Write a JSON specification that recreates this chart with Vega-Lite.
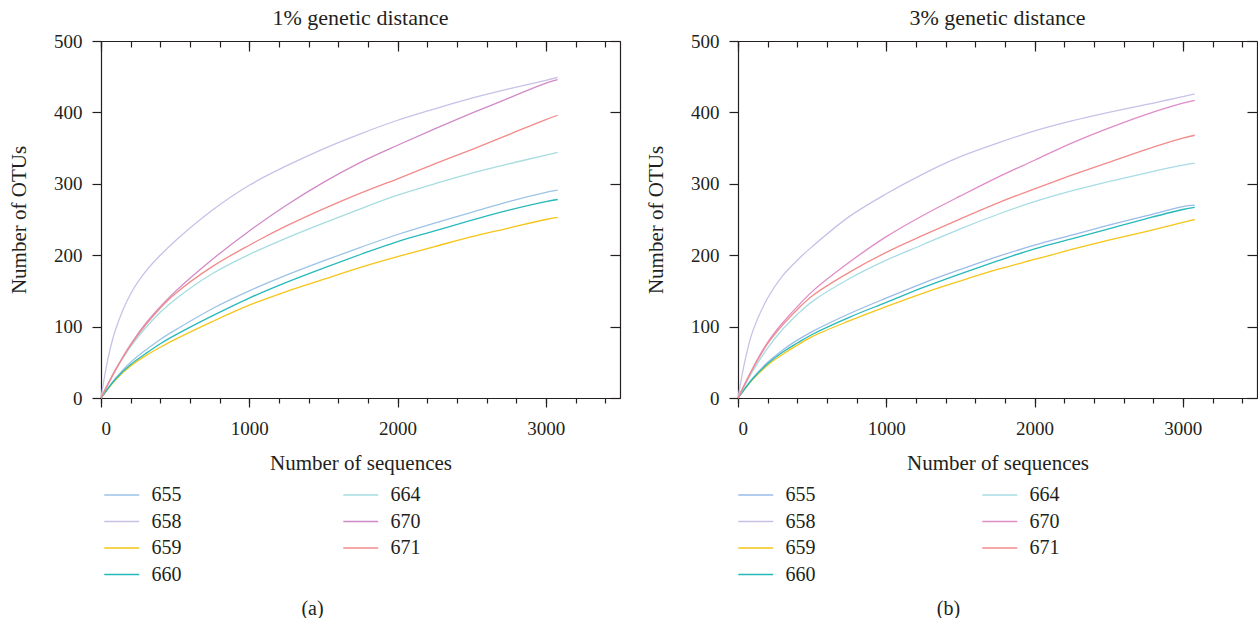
{
  "$schema": "https://vega.github.io/schema/vega-lite/v6.json",
  "padding": {"left": 8, "top": 7, "right": 0, "bottom": 0},
  "spacing": 24,
  "config": {
    "font": "Liberation Serif",
    "view": {"stroke": null},
    "axis": {"domainColor": "#231f20", "tickColor": "#231f20", "labelColor": "#231f20", "titleColor": "#231f20", "labelFontSize": 19, "titleFontSize": 21, "titleFontWeight": "normal", "domainWidth": 1.2, "tickWidth": 1.2, "grid": false, "labelFont": "Liberation Serif", "titleFont": "Liberation Serif"},
    "title": {"font": "Liberation Serif", "fontSize": 22, "fontWeight": "normal", "color": "#231f20", "anchor": "middle", "frame": "group", "offset": 2},
    "legend": {"labelFont": "Liberation Serif", "labelColor": "#231f20"}
  },
  "datasets": {
    "a": [
      {"sample":"655","seq":0,"otus":0},{"sample":"655","seq":100,"otus":28},{"sample":"655","seq":200,"otus":50},{"sample":"655","seq":300,"otus":67},{"sample":"655","seq":400,"otus":82},{"sample":"655","seq":500,"otus":95},{"sample":"655","seq":750,"otus":125},{"sample":"655","seq":1000,"otus":150},{"sample":"655","seq":1250,"otus":172},{"sample":"655","seq":1500,"otus":192},{"sample":"655","seq":1750,"otus":211},{"sample":"655","seq":2000,"otus":229},{"sample":"655","seq":2250,"otus":245},{"sample":"655","seq":2500,"otus":260},{"sample":"655","seq":2750,"otus":275},{"sample":"655","seq":3000,"otus":288},{"sample":"655","seq":3080,"otus":291},
      {"sample":"658","seq":0,"otus":0},{"sample":"658","seq":50,"otus":58},{"sample":"658","seq":100,"otus":97},{"sample":"658","seq":200,"otus":146},{"sample":"658","seq":300,"otus":177},{"sample":"658","seq":400,"otus":200},{"sample":"658","seq":500,"otus":220},{"sample":"658","seq":750,"otus":263},{"sample":"658","seq":1000,"otus":298},{"sample":"658","seq":1250,"otus":325},{"sample":"658","seq":1500,"otus":349},{"sample":"658","seq":1750,"otus":370},{"sample":"658","seq":2000,"otus":389},{"sample":"658","seq":2250,"otus":405},{"sample":"658","seq":2500,"otus":420},{"sample":"658","seq":2750,"otus":433},{"sample":"658","seq":3000,"otus":445},{"sample":"658","seq":3080,"otus":449},
      {"sample":"659","seq":0,"otus":0},{"sample":"659","seq":100,"otus":26},{"sample":"659","seq":200,"otus":45},{"sample":"659","seq":300,"otus":59},{"sample":"659","seq":400,"otus":71},{"sample":"659","seq":500,"otus":82},{"sample":"659","seq":750,"otus":107},{"sample":"659","seq":1000,"otus":130},{"sample":"659","seq":1250,"otus":149},{"sample":"659","seq":1500,"otus":166},{"sample":"659","seq":1750,"otus":183},{"sample":"659","seq":2000,"otus":198},{"sample":"659","seq":2250,"otus":212},{"sample":"659","seq":2500,"otus":226},{"sample":"659","seq":2750,"otus":238},{"sample":"659","seq":3000,"otus":250},{"sample":"659","seq":3080,"otus":253},
      {"sample":"660","seq":0,"otus":0},{"sample":"660","seq":100,"otus":27},{"sample":"660","seq":200,"otus":47},{"sample":"660","seq":300,"otus":62},{"sample":"660","seq":400,"otus":76},{"sample":"660","seq":500,"otus":88},{"sample":"660","seq":750,"otus":115},{"sample":"660","seq":1000,"otus":140},{"sample":"660","seq":1250,"otus":162},{"sample":"660","seq":1500,"otus":182},{"sample":"660","seq":1750,"otus":201},{"sample":"660","seq":2000,"otus":219},{"sample":"660","seq":2250,"otus":234},{"sample":"660","seq":2500,"otus":249},{"sample":"660","seq":2750,"otus":263},{"sample":"660","seq":3000,"otus":275},{"sample":"660","seq":3080,"otus":278},
      {"sample":"664","seq":0,"otus":0},{"sample":"664","seq":100,"otus":40},{"sample":"664","seq":200,"otus":72},{"sample":"664","seq":300,"otus":98},{"sample":"664","seq":400,"otus":120},{"sample":"664","seq":500,"otus":138},{"sample":"664","seq":750,"otus":174},{"sample":"664","seq":1000,"otus":201},{"sample":"664","seq":1250,"otus":224},{"sample":"664","seq":1500,"otus":245},{"sample":"664","seq":1750,"otus":265},{"sample":"664","seq":2000,"otus":284},{"sample":"664","seq":2250,"otus":300},{"sample":"664","seq":2500,"otus":315},{"sample":"664","seq":2750,"otus":328},{"sample":"664","seq":3000,"otus":340},{"sample":"664","seq":3080,"otus":344},
      {"sample":"670","seq":0,"otus":0},{"sample":"670","seq":100,"otus":40},{"sample":"670","seq":200,"otus":75},{"sample":"670","seq":300,"otus":104},{"sample":"670","seq":400,"otus":128},{"sample":"670","seq":500,"otus":149},{"sample":"670","seq":750,"otus":194},{"sample":"670","seq":1000,"otus":234},{"sample":"670","seq":1250,"otus":270},{"sample":"670","seq":1500,"otus":302},{"sample":"670","seq":1750,"otus":330},{"sample":"670","seq":2000,"otus":354},{"sample":"670","seq":2250,"otus":377},{"sample":"670","seq":2500,"otus":399},{"sample":"670","seq":2750,"otus":420},{"sample":"670","seq":3000,"otus":441},{"sample":"670","seq":3080,"otus":446},
      {"sample":"671","seq":0,"otus":0},{"sample":"671","seq":100,"otus":40},{"sample":"671","seq":200,"otus":74},{"sample":"671","seq":300,"otus":102},{"sample":"671","seq":400,"otus":126},{"sample":"671","seq":500,"otus":146},{"sample":"671","seq":750,"otus":184},{"sample":"671","seq":1000,"otus":214},{"sample":"671","seq":1250,"otus":241},{"sample":"671","seq":1500,"otus":265},{"sample":"671","seq":1750,"otus":287},{"sample":"671","seq":2000,"otus":307},{"sample":"671","seq":2250,"otus":328},{"sample":"671","seq":2500,"otus":348},{"sample":"671","seq":2750,"otus":369},{"sample":"671","seq":3000,"otus":390},{"sample":"671","seq":3080,"otus":396}
    ],
    "b": [
      {"sample":"655","seq":0,"otus":0},{"sample":"655","seq":100,"otus":28},{"sample":"655","seq":200,"otus":50},{"sample":"655","seq":300,"otus":67},{"sample":"655","seq":400,"otus":81},{"sample":"655","seq":500,"otus":93},{"sample":"655","seq":750,"otus":118},{"sample":"655","seq":1000,"otus":140},{"sample":"655","seq":1250,"otus":161},{"sample":"655","seq":1500,"otus":180},{"sample":"655","seq":1750,"otus":198},{"sample":"655","seq":2000,"otus":214},{"sample":"655","seq":2250,"otus":228},{"sample":"655","seq":2500,"otus":242},{"sample":"655","seq":2750,"otus":255},{"sample":"655","seq":3000,"otus":268},{"sample":"655","seq":3080,"otus":270},
      {"sample":"658","seq":0,"otus":0},{"sample":"658","seq":50,"otus":55},{"sample":"658","seq":100,"otus":94},{"sample":"658","seq":200,"otus":140},{"sample":"658","seq":300,"otus":171},{"sample":"658","seq":400,"otus":193},{"sample":"658","seq":500,"otus":212},{"sample":"658","seq":750,"otus":254},{"sample":"658","seq":1000,"otus":286},{"sample":"658","seq":1250,"otus":314},{"sample":"658","seq":1500,"otus":338},{"sample":"658","seq":1750,"otus":357},{"sample":"658","seq":2000,"otus":374},{"sample":"658","seq":2250,"otus":388},{"sample":"658","seq":2500,"otus":400},{"sample":"658","seq":2750,"otus":411},{"sample":"658","seq":3000,"otus":422},{"sample":"658","seq":3080,"otus":426},
      {"sample":"659","seq":0,"otus":0},{"sample":"659","seq":100,"otus":26},{"sample":"659","seq":200,"otus":46},{"sample":"659","seq":300,"otus":61},{"sample":"659","seq":400,"otus":74},{"sample":"659","seq":500,"otus":86},{"sample":"659","seq":750,"otus":108},{"sample":"659","seq":1000,"otus":128},{"sample":"659","seq":1250,"otus":147},{"sample":"659","seq":1500,"otus":164},{"sample":"659","seq":1750,"otus":180},{"sample":"659","seq":2000,"otus":194},{"sample":"659","seq":2250,"otus":208},{"sample":"659","seq":2500,"otus":221},{"sample":"659","seq":2750,"otus":233},{"sample":"659","seq":3000,"otus":246},{"sample":"659","seq":3080,"otus":250},
      {"sample":"660","seq":0,"otus":0},{"sample":"660","seq":100,"otus":27},{"sample":"660","seq":200,"otus":48},{"sample":"660","seq":300,"otus":64},{"sample":"660","seq":400,"otus":77},{"sample":"660","seq":500,"otus":89},{"sample":"660","seq":750,"otus":113},{"sample":"660","seq":1000,"otus":134},{"sample":"660","seq":1250,"otus":155},{"sample":"660","seq":1500,"otus":174},{"sample":"660","seq":1750,"otus":192},{"sample":"660","seq":2000,"otus":209},{"sample":"660","seq":2250,"otus":223},{"sample":"660","seq":2500,"otus":237},{"sample":"660","seq":2750,"otus":251},{"sample":"660","seq":3000,"otus":264},{"sample":"660","seq":3080,"otus":267},
      {"sample":"664","seq":0,"otus":0},{"sample":"664","seq":100,"otus":38},{"sample":"664","seq":200,"otus":70},{"sample":"664","seq":300,"otus":96},{"sample":"664","seq":400,"otus":117},{"sample":"664","seq":500,"otus":135},{"sample":"664","seq":750,"otus":167},{"sample":"664","seq":1000,"otus":193},{"sample":"664","seq":1250,"otus":215},{"sample":"664","seq":1500,"otus":237},{"sample":"664","seq":1750,"otus":257},{"sample":"664","seq":2000,"otus":275},{"sample":"664","seq":2250,"otus":290},{"sample":"664","seq":2500,"otus":303},{"sample":"664","seq":2750,"otus":315},{"sample":"664","seq":3000,"otus":326},{"sample":"664","seq":3080,"otus":329},
      {"sample":"670","seq":0,"otus":0},{"sample":"670","seq":100,"otus":42},{"sample":"670","seq":200,"otus":78},{"sample":"670","seq":300,"otus":105},{"sample":"670","seq":400,"otus":128},{"sample":"670","seq":500,"otus":149},{"sample":"670","seq":750,"otus":190},{"sample":"670","seq":1000,"otus":226},{"sample":"670","seq":1250,"otus":256},{"sample":"670","seq":1500,"otus":283},{"sample":"670","seq":1750,"otus":309},{"sample":"670","seq":2000,"otus":333},{"sample":"670","seq":2250,"otus":357},{"sample":"670","seq":2500,"otus":378},{"sample":"670","seq":2750,"otus":397},{"sample":"670","seq":3000,"otus":413},{"sample":"670","seq":3080,"otus":417},
      {"sample":"671","seq":0,"otus":0},{"sample":"671","seq":100,"otus":41},{"sample":"671","seq":200,"otus":76},{"sample":"671","seq":300,"otus":102},{"sample":"671","seq":400,"otus":124},{"sample":"671","seq":500,"otus":143},{"sample":"671","seq":750,"otus":176},{"sample":"671","seq":1000,"otus":204},{"sample":"671","seq":1250,"otus":228},{"sample":"671","seq":1500,"otus":251},{"sample":"671","seq":1750,"otus":273},{"sample":"671","seq":2000,"otus":293},{"sample":"671","seq":2250,"otus":312},{"sample":"671","seq":2500,"otus":330},{"sample":"671","seq":2750,"otus":348},{"sample":"671","seq":3000,"otus":364},{"sample":"671","seq":3080,"otus":368}
    ]
  },
  "resolve": {"scale": {"color": "independent"}, "legend": {"color": "independent"}},
  "hconcat": [
    {
      "width": 519, "height": 357,
      "title": {"text": "1% genetic distance"},
      "data": {"name": "a"},
      "resolve": {"axis": {"x": "independent", "y": "independent"}},
      "layer": [
        {
          "mark": {"type": "line", "strokeWidth": 1.3, "interpolate": "catmull-rom"},
          "encoding": {
            "x": {"field": "seq", "type": "quantitative", "scale": {"domain": [0, 3500], "nice": false},
                  "axis": {"orient": "bottom", "values": [0,200,400,600,800,1000,1200,1400,1600,1800,2000,2200,2400,2600,2800,3000,3200,3400], "tickSize": 5, "labels": false, "title": "(a)", "titleX": 211, "titleY": 200, "titleAlign": "center", "titleBaseline": "top", "titleFontSize": 20}},
            "y": {"field": "otus", "type": "quantitative", "scale": {"domain": [0, 500], "nice": false},
                  "axis": {"orient": "left", "values": [0,100,200,300,400,500], "tickSize": 9, "labelPadding": 10, "title": "Number of OTUs", "titlePadding": 24}},
            "color": {"field": "sample", "type": "nominal",
                      "scale": {"domain": ["655","658","659","660","664","670","671"], "range": ["#9dc3e6","#c9c0e8","#f5c518","#27b9ba","#a6dde0","#d08ac8","#f28b8b"]},
                      "legend": {"orient": "none", "legendX": 2, "legendY": 444, "columns": 2, "columnPadding": 158, "rowPadding": 6.5, "symbolType": "M-1,0L3,0", "symbolSize": 306, "symbolStrokeWidth": 1.5, "labelOffset": 28.5, "labelFontSize": 20, "title": null, "padding": 0}}
          }
        },
        {
          "mark": {"type": "line", "opacity": 0},
          "encoding": {
            "x": {"field": "seq", "type": "quantitative", "axis": {"orient": "bottom", "values": [0,1000,2000,3000], "format": "d", "tickSize": 9, "labelPadding": 12, "title": "Number of sequences", "titlePadding": 14}},
            "y": {"field": "otus", "type": "quantitative", "axis": {"orient": "right", "values": [0,100,200,300,400,500], "tickSize": -10, "labels": false, "title": null}}
          }
        },
        {
          "mark": {"type": "line", "opacity": 0},
          "encoding": {
            "x": {"field": "seq", "type": "quantitative", "axis": {"orient": "top", "values": [0,200,400,600,800,1000,1200,1400,1600,1800,2000,2200,2400,2600,2800,3000,3200,3400], "tickSize": -6, "labels": false, "title": null}},
            "y": {"field": "otus", "type": "quantitative", "axis": null}
          }
        },
        {
          "mark": {"type": "line", "opacity": 0},
          "encoding": {
            "x": {"field": "seq", "type": "quantitative", "axis": {"orient": "top", "values": [0,1000,2000,3000], "tickSize": -10, "labels": false, "title": null, "domain": false}},
            "y": {"field": "otus", "type": "quantitative", "axis": null}
          }
        }
      ]
    },
    {
      "width": 519, "height": 357,
      "title": {"text": "3% genetic distance"},
      "data": {"name": "b"},
      "resolve": {"axis": {"x": "independent", "y": "independent"}},
      "layer": [
        {
          "mark": {"type": "line", "strokeWidth": 1.3, "interpolate": "catmull-rom"},
          "encoding": {
            "x": {"field": "seq", "type": "quantitative", "scale": {"domain": [0, 3500], "nice": false},
                  "axis": {"orient": "bottom", "values": [0,200,400,600,800,1000,1200,1400,1600,1800,2000,2200,2400,2600,2800,3000,3200,3400], "tickSize": 5, "labels": false, "title": "(b)", "titleX": 210, "titleY": 200, "titleAlign": "center", "titleBaseline": "top", "titleFontSize": 20}},
            "y": {"field": "otus", "type": "quantitative", "scale": {"domain": [0, 500], "nice": false},
                  "axis": {"orient": "left", "values": [0,100,200,300,400,500], "tickSize": 9, "labelPadding": 10, "title": "Number of OTUs", "titlePadding": 24}},
            "color": {"field": "sample", "type": "nominal",
                      "scale": {"domain": ["655","658","659","660","664","670","671"], "range": ["#9bbbe8","#c9c0e8","#f5c518","#27b9ba","#a8dce6","#e08cc8","#f28b8b"]},
                      "legend": {"orient": "none", "legendX": -1, "legendY": 444, "columns": 2, "columnPadding": 163, "rowPadding": 6.5, "symbolType": "M-1,0L3,0", "symbolSize": 306, "symbolStrokeWidth": 1.5, "labelOffset": 28.5, "labelFontSize": 20, "title": null, "padding": 0}}
          }
        },
        {
          "mark": {"type": "line", "opacity": 0},
          "encoding": {
            "x": {"field": "seq", "type": "quantitative", "axis": {"orient": "bottom", "values": [0,1000,2000,3000], "format": "d", "tickSize": 9, "labelPadding": 12, "title": "Number of sequences", "titlePadding": 14}},
            "y": {"field": "otus", "type": "quantitative", "axis": {"orient": "right", "values": [0,100,200,300,400,500], "tickSize": -10, "labels": false, "title": null}}
          }
        },
        {
          "mark": {"type": "line", "opacity": 0},
          "encoding": {
            "x": {"field": "seq", "type": "quantitative", "axis": {"orient": "top", "values": [0,200,400,600,800,1000,1200,1400,1600,1800,2000,2200,2400,2600,2800,3000,3200,3400], "tickSize": -6, "labels": false, "title": null}},
            "y": {"field": "otus", "type": "quantitative", "axis": null}
          }
        },
        {
          "mark": {"type": "line", "opacity": 0},
          "encoding": {
            "x": {"field": "seq", "type": "quantitative", "axis": {"orient": "top", "values": [0,1000,2000,3000], "tickSize": -10, "labels": false, "title": null, "domain": false}},
            "y": {"field": "otus", "type": "quantitative", "axis": null}
          }
        }
      ]
    }
  ]
}
